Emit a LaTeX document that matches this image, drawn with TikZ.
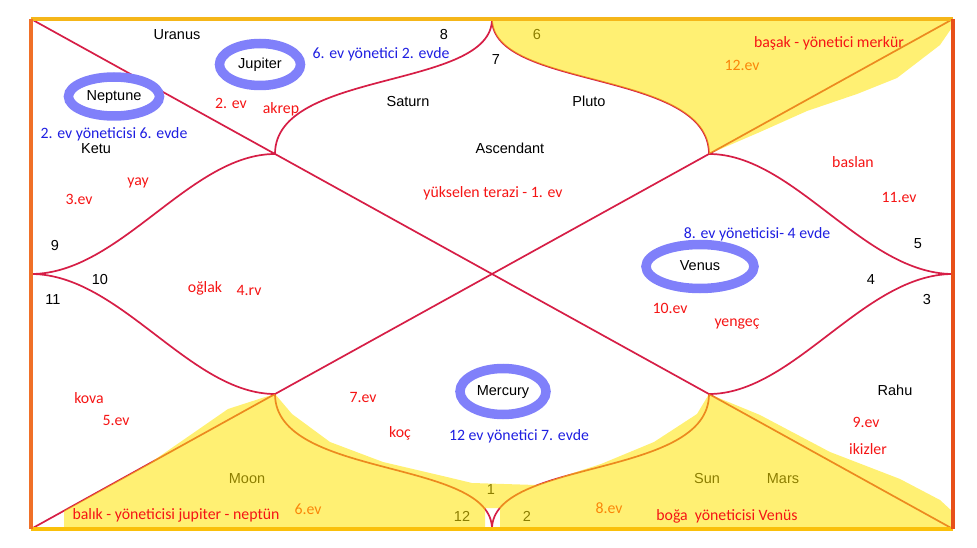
\documentclass[tikz,border=0pt]{standalone}
\usepackage{fontspec}
\usepackage{xcolor}
\usepackage{tikz}
\usetikzlibrary{shapes.geometric}
\newfontfamily\arialfont{Liberation Sans}
\newfontfamily\califont{Carlito}
\definecolor{chartred}{RGB}{214,30,70}
\definecolor{hiyellow}{RGB}{255,228,0}
\definecolor{blobblue}{RGB}{128,128,250}
\definecolor{noteblue}{RGB}{30,30,225}
\definecolor{notered}{RGB}{245,20,20}
\definecolor{frametop}{RGB}{245,182,25}
\definecolor{frameleft}{RGB}{240,112,40}
\definecolor{frameright}{RGB}{232,80,25}
\definecolor{framebottom}{RGB}{250,192,10}

\begin{document}
\begin{tikzpicture}[x=1pt, y=-1pt,
    chart/.style={draw=chartred, line width=1.7pt},
    edge/.style={line width=3.8pt, line cap=square},
    lbl/.style={font=\arialfont\fontsize{14.5pt}{16pt}\selectfont, inner sep=0pt, text height=0.72em, text depth=0pt, yshift=-2.5pt},
    note/.style={font=\califont\fontsize{15.8pt}{17pt}\selectfont, inner sep=0pt, text=notered, text height=0.7em, text depth=0pt, yshift=-2.5pt},
    bnote/.style={note, text=noteblue},
    blob/.style={ellipse, draw=blobblue, line width=9.5pt, inner sep=0pt, yshift=0pt},
    hilite/.style={fill=hiyellow, fill opacity=0.55}
]
\useasboundingbox (0,0) rectangle (977,548);
\coordinate (nw) at (31,19);  \coordinate (ne) at (953,19);
\coordinate (sw) at (31,529); \coordinate (se) at (953,529);
\coordinate (t) at (492,19);  \coordinate (b) at (492,529);
\coordinate (l) at (31,274);  \coordinate (r) at (953,274);
\coordinate (tl) at (275,154); \coordinate (tr) at (709,154);
\coordinate (bl) at (275,394); \coordinate (br) at (709,394);

\draw[chart] (nw) -- (se);
\draw[chart] (ne) -- (sw);
\draw[chart] (t) .. controls +(0,71) and +(0,-85) .. (tl)
    .. controls +(-85,0) and +(89,0) .. (l)
    .. controls +(89,0) and +(-85,0) .. (bl)
    .. controls +(0,85) and +(0,-71) .. (b)
    .. controls +(0,-71) and +(0,85) .. (br)
    .. controls +(85,0) and +(-89,0) .. (r)
    .. controls +(-89,0) and +(85,0) .. (tr)
    .. controls +(0,-85) and +(0,71) .. (t);

\node[lbl] (n6) at (537,33) {6};
\node[note] (h12) at (742,65) {12.ev};
\node[lbl] (moon) at (247,477) {Moon};
\node[note] (h6) at (308,508) {6.ev};
\node[lbl] (sun) at (707,477) {Sun};
\node[lbl] (mars) at (783,477) {Mars};
\node[lbl] (n1) at (491,488) {1};
\node[lbl] (n12) at (462,515) {12};
\node[lbl] (n2) at (527,515) {2};
\node[note] (h8) at (609,507) {8.ev};

\fill[hilite] (t) -- (ne) -- (953,26) -- (940,45) -- (897,78) -- (857,94) -- (807,111) -- (760,132) -- (tr)
    .. controls +(0,-85) and +(0,71) .. (t) -- cycle
  (64,529) -- (64,511) -- (150,463) -- (228,409) -- (262,398) -- (bl) -- (292,414) -- (330,442)
    -- (383,462) -- (447,477) -- (472,483) -- (536,485) -- (601,464) -- (654,442) -- (697,414) -- (br)
    -- (760,415) -- (830,452) -- (900,479) -- (940,500) -- (953,512) -- (se) -- (500,529)
    -- (500,508) -- (485,508) -- (485,529) -- cycle;

\draw[edge, frametop] (nw) -- (ne);
\draw[edge, framebottom] (sw) -- (se);
\draw[edge, frameleft] (nw) -- (sw);
\draw[edge, frameright] (ne) -- (se);

\node[lbl, blob, minimum width=81pt, minimum height=42pt] (jup) at (260,62) {Jupiter};
\node[lbl, blob, minimum width=91pt, minimum height=39pt] (nep) at (114,94) {Neptune};
\node[lbl, blob, minimum width=108pt, minimum height=44pt] (venus) at (700,264) {Venus};
\node[lbl, blob, minimum width=86pt, minimum height=46pt] (mercury) at (503,389) {Mercury};

\node[lbl] (uranus) at (177,33) {Uranus};
\node[lbl] (ketu) at (96,147) {Ketu};
\node[lbl] (saturn) at (408,100) {Saturn};
\node[lbl] (pluto) at (589,100) {Pluto};
\node[lbl] (asc) at (510,147) {Ascendant};
\node[lbl] (rahu) at (895,389) {Rahu};
\node[lbl] (n8) at (444,33) {8};
\node[lbl] (n7) at (496,58) {7};
\node[lbl] (n9) at (55,244) {9};
\node[lbl] (n10) at (100,278) {10};
\node[lbl] (n11) at (53,298) {11};
\node[lbl] (n5) at (918,242) {5};
\node[lbl] (n4) at (871,278) {4};
\node[lbl] (n3) at (927,298) {3};

\node[bnote] (juprule) at (381,53) {6. ev yönetici 2. evde};
\node[bnote] (neprule) at (114,133) {2. ev yöneticisi 6. evde};
\node[bnote] (venrule) at (757,232) {8. ev yöneticisi- 4 evde};
\node[bnote] (merrule) at (519,434) {12 ev yönetici 7. evde};

\node[note] (h2) at (231,103) {2. ev};
\node[note] (akrep) at (281,108) {akrep};
\node[note] (h1) at (493,192) {yükselen terazi - 1. ev};
\node[note] (basak) at (829,42) {başak - yönetici merkür};
\node[note] (baslan) at (853,162) {baslan};
\node[note] (h11) at (899,197) {11.ev};
\node[note] (yay) at (138,180) {yay};
\node[note] (h3) at (79,199) {3.ev};
\node[note] (oglak) at (205,286) {oğlak};
\node[note] (h4) at (249,289) {4.rv};
\node[note] (h10) at (670,307) {10.ev};
\node[note] (yengec) at (737,320) {yengeç};
\node[note] (h7) at (363,396) {7.ev};
\node[note] (koc) at (400,431) {koç};
\node[note] (kova) at (89,397) {kova};
\node[note] (h5) at (116,419) {5.ev};
\node[note] (balik) at (176,513) {balık - yöneticisi jupiter - neptün};
\node[note] (h9) at (866,421) {9.ev};
\node[note] (ikizler) at (868,448) {ikizler};
\node[note] (boga) at (727,514) {boğa~~yöneticisi Venüs};
\end{tikzpicture}
\end{document}
